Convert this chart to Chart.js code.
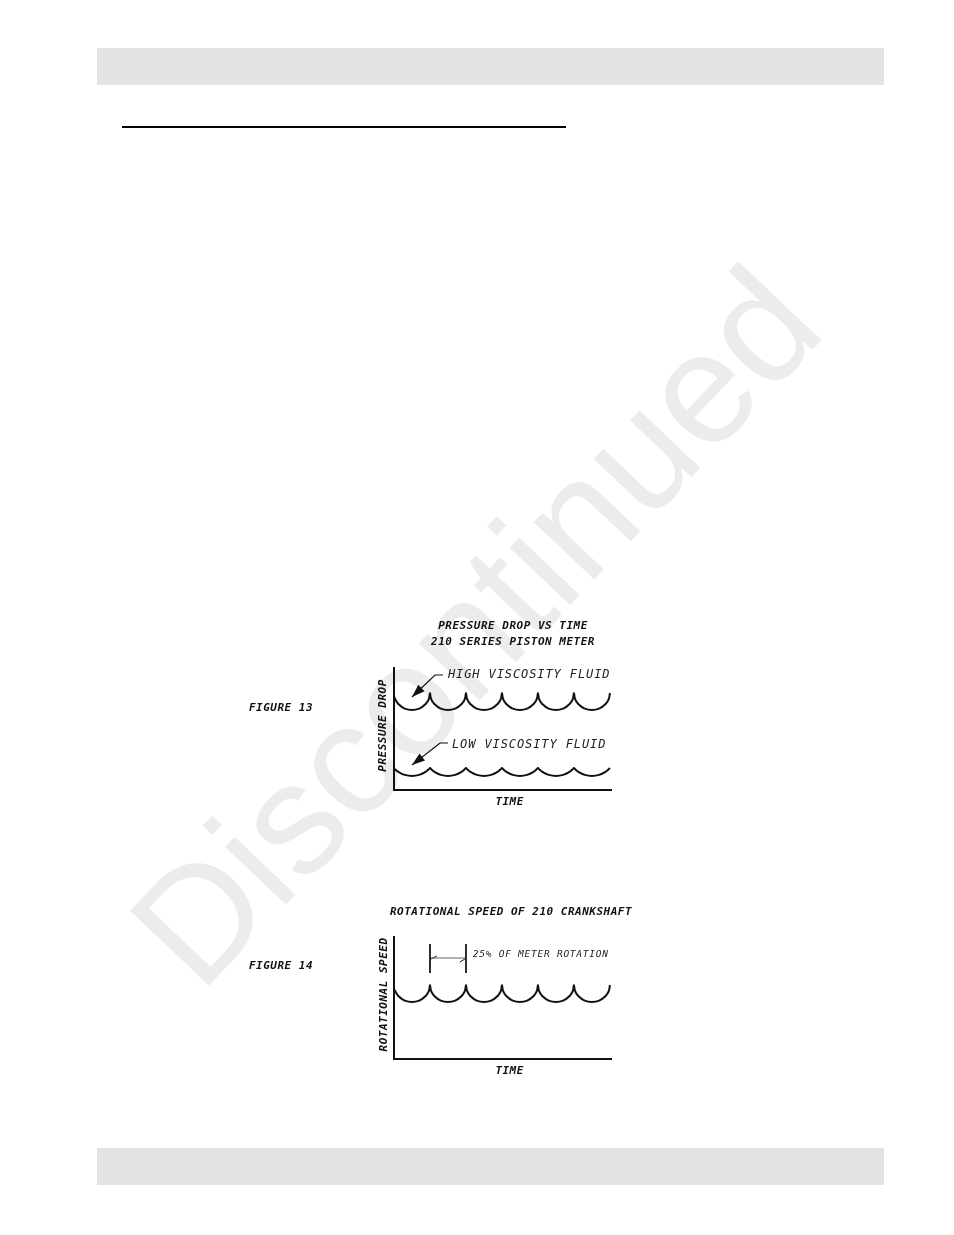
<!DOCTYPE html>
<html>
<head>
<meta charset="utf-8">
<script src="https://cdn.jsdelivr.net/npm/chart.js@4.4.1/dist/chart.umd.min.js"></script>
<style>
  html, body { margin: 0; padding: 0; background: #fff; }
  body { width: 954px; height: 1235px; position: relative; overflow: hidden; }
  .band { position: absolute; left: 97px; width: 787px; height: 37px; background: #e3e3e3; }
  #rule { position: absolute; left: 122px; top: 126px; width: 444px; height: 2px; background: #000; }
  .fig { position: absolute; font: italic bold 11px "DejaVu Sans Mono"; line-height: 12px; letter-spacing: 0.5px; color: #111; }
  canvas.chart { position: absolute; }
</style>
</head>
<body>
<canvas id="wm" width="954" height="1235" style="position:absolute;left:0;top:0"></canvas>
<div class="band" style="top:48px"></div>
<div id="rule"></div>
<div class="fig" style="left:249px;top:702px">FIGURE 13</div>
<div class="fig" style="left:249px;top:960px">FIGURE 14</div>
<canvas id="fig13" class="chart" width="300" height="200" style="left:363px;top:608px"></canvas>
<canvas id="fig14" class="chart" width="300" height="187" style="left:361px;top:890px"></canvas>
<div class="band" style="top:1148px"></div>

<script>
// time axis: one unit = one cusp-to-cusp cycle
const time = [
  0, 0.03, 0.12, 0.3, 0.5, 0.7, 0.88, 0.97,
  1, 1.03, 1.12, 1.3, 1.5, 1.7, 1.88, 1.97,
  2, 2.03, 2.12, 2.3, 2.5, 2.7, 2.88, 2.97,
  3, 3.03, 3.12, 3.3, 3.5, 3.7, 3.88, 3.97,
  4, 4.03, 4.12, 4.3, 4.5, 4.7, 4.88, 4.97,
  5, 5.03, 5.12, 5.3, 5.5, 5.7, 5.88, 5.97,
  6
];

const highViscosity = [
  9.4, 9.12, 8.6, 8.14, 8.0, 8.14, 8.6, 9.12,
  9.7, 9.12, 8.6, 8.14, 8.0, 8.14, 8.6, 9.12,
  9.7, 9.12, 8.6, 8.14, 8.0, 8.14, 8.6, 9.12,
  9.7, 9.12, 8.6, 8.14, 8.0, 8.14, 8.6, 9.12,
  9.7, 9.12, 8.6, 8.14, 8.0, 8.14, 8.6, 9.12,
  9.7, 9.12, 8.6, 8.14, 8.0, 8.14, 8.6, 9.12,
  9.7
];

const lowViscosity = [
  2.05, 2.05, 1.82, 1.51, 1.4, 1.51, 1.82, 2.09,
  2.2, 2.09, 1.82, 1.51, 1.4, 1.51, 1.82, 2.09,
  2.2, 2.09, 1.82, 1.51, 1.4, 1.51, 1.82, 2.09,
  2.2, 2.09, 1.82, 1.51, 1.4, 1.51, 1.82, 2.09,
  2.2, 2.09, 1.82, 1.51, 1.4, 1.51, 1.82, 2.09,
  2.2, 2.09, 1.82, 1.51, 1.4, 1.51, 1.82, 2.09,
  2.2
];

const crankSpeed = [
  7.0, 6.82, 6.3, 5.84, 5.7, 5.84, 6.3, 6.82,
  7.4, 6.82, 6.3, 5.84, 5.7, 5.84, 6.3, 6.82,
  7.4, 6.82, 6.3, 5.84, 5.7, 5.84, 6.3, 6.82,
  7.4, 6.82, 6.3, 5.84, 5.7, 5.84, 6.3, 6.82,
  7.4, 6.82, 6.3, 5.84, 5.7, 5.84, 6.3, 6.82,
  7.4, 6.82, 6.3, 5.84, 5.7, 5.84, 6.3, 6.82,
  7.4
];

// leader lines (last point is the arrow tip)
const highLeader = [[1.36, 11.5], [1.14, 11.5], [0.5, 9.3]];
const lowLeader = [[1.5, 4.7], [1.28, 4.7], [0.5, 2.5]];

// 25% dimension marker on fig 14
const dimLeft = [[1, 11.5], [1, 8.6]];
const dimRight = [[2, 11.5], [2, 8.6]];
const dimSpan = [[1, 10.1], [2, 10.1]];
const dimTickLeft = [[1.03, 10.0], [1.19, 10.3]];
const dimTickRight = [[1.83, 9.7], [1.97, 10.0]];

const fig13Notes = ["HIGH VISCOSITY FLUID", "LOW VISCOSITY FLUID"];
const fig13NoteAt = [[1.5, 11.5], [1.61, 4.5]];
const fig14Notes = ["25% OF METER ROTATION"];
const fig14NoteAt = [[2.19, 10.4]];

// watermark
const wm = document.getElementById("wm").getContext("2d");
wm.font = '158px "Liberation Sans"';
wm.fillStyle = "#ececec";
wm.translate(200, 995);
wm.rotate((-46.5 * Math.PI) / 180);
wm.fillText("Discontinued", 0, 0);

const ink = "#111";
const boldFont = { family: "DejaVu Sans Mono", size: 11, style: "italic", weight: "bold", lineHeight: "16px" };
const axisFont = { ...boldFont, lineHeight: "12px" };

const xy = (pairs) => pairs.map((p) => ({ x: p[0], y: p[1] }));
const series = (values) => values.map((v, i) => ({ x: time[i], y: v }));

const curve = (values) => ({
  data: series(values),
  borderColor: ink,
  borderWidth: 2,
  pointRadius: 0,
  tension: 0.4,
});
const stroke = (pairs, width, color, arrow) => ({
  data: xy(pairs),
  borderColor: color || ink,
  borderWidth: width,
  pointRadius: 0,
  tension: 0,
  arrow: !!arrow,
});

// arrow heads + free text, placed through the chart scales
const annotate = (texts, anchors, font, spacing) => ({
  id: "annotate",
  beforeDraw(chart) {
    chart.ctx.letterSpacing = "0.5px";
  },
  afterDatasetsDraw(chart) {
    const ctx = chart.ctx;
    const { x, y } = chart.scales;
    chart.data.datasets.forEach((ds, i) => {
      if (!ds.arrow) return;
      const pts = chart.getDatasetMeta(i).data;
      const tip = pts[pts.length - 1];
      const from = pts[pts.length - 2];
      const a = Math.atan2(tip.y - from.y, tip.x - from.x);
      const len = 13, half = 4.5;
      ctx.save();
      ctx.fillStyle = ink;
      ctx.beginPath();
      ctx.moveTo(tip.x, tip.y);
      ctx.lineTo(tip.x - len * Math.cos(a) + half * Math.sin(a), tip.y - len * Math.sin(a) - half * Math.cos(a));
      ctx.lineTo(tip.x - len * Math.cos(a) - half * Math.sin(a), tip.y - len * Math.sin(a) + half * Math.cos(a));
      ctx.closePath();
      ctx.fill();
      ctx.restore();
    });
    texts.forEach((t, i) => {
      ctx.save();
      ctx.font = font;
      ctx.letterSpacing = spacing;
      ctx.fillStyle = "#222";
      ctx.textBaseline = "middle";
      ctx.fillText(t, x.getPixelForValue(anchors[i][0]), y.getPixelForValue(anchors[i][1]));
      ctx.restore();
    });
  },
});

const scalesFor = (xTitle, yTitle, yPad, rightGap) => ({
  x: {
    type: "linear",
    min: 0,
    max: 6.03,
    grid: { display: false, drawTicks: false },
    border: { display: true, color: ink, width: 2 },
    ticks: { display: false },
    title: { display: true, text: xTitle, color: ink, font: axisFont, padding: { top: 6, bottom: 0 } },
  },
  y: {
    min: 0,
    max: 12.2,
    grid: { display: false, drawTicks: false },
    border: { display: true, color: ink, width: 2 },
    ticks: { display: false },
    title: { display: true, text: yTitle, color: ink, font: axisFont, padding: yPad },
  },
  // empty right axis so the chart title stays centred on the canvas
  gap: {
    position: "right",
    grid: { display: false, drawTicks: false },
    border: { display: false },
    ticks: { display: false },
    afterFit: (s) => { s.width = rightGap; },
  },
});

new Chart(document.getElementById("fig13"), {
  type: "line",
  data: {
    datasets: [
      curve(highViscosity),
      curve(lowViscosity),
      stroke(highLeader, 1.2, ink, true),
      stroke(lowLeader, 1.2, ink, true),
    ],
  },
  options: {
    responsive: false,
    animation: false,
    events: [],
    plugins: {
      legend: { display: false },
      tooltip: { enabled: false },
      title: {
        display: true,
        text: ["PRESSURE DROP VS TIME", "210 SERIES PISTON METER"],
        color: ink,
        font: boldFont,
        padding: { top: 10, bottom: 18 },
      },
    },
    scales: scalesFor("  TIME", " PRESSURE DROP", { top: 14, bottom: 5 }, 52),
  },
  plugins: [annotate(fig13Notes, fig13NoteAt, 'italic 12px "DejaVu Sans Mono"', "0.9px")],
});

new Chart(document.getElementById("fig14"), {
  type: "line",
  data: {
    datasets: [
      curve(crankSpeed),
      stroke(dimLeft, 1, ink),
      stroke(dimRight, 1, ink),
      stroke(dimSpan, 1.2, "#666"),
      stroke(dimTickLeft, 1, ink),
      stroke(dimTickRight, 1, ink),
    ],
  },
  options: {
    responsive: false,
    animation: false,
    events: [],
    plugins: {
      legend: { display: false },
      tooltip: { enabled: false },
      title: {
        display: true,
        text: "ROTATIONAL SPEED OF 210 CRANKSHAFT",
        color: ink,
        font: boldFont,
        padding: { top: 14, bottom: 17 },
      },
    },
    scales: scalesFor("  TIME", " ROTATIONAL SPEED", { top: 17, bottom: 4 }, 50),
  },
  plugins: [annotate(fig14Notes, fig14NoteAt, 'italic 9.5px "DejaVu Sans Mono"', "0.75px")],
});
</script>
</body>
</html>
